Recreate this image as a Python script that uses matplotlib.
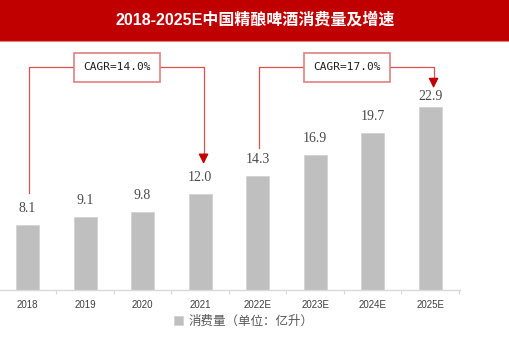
import matplotlib
matplotlib.use("Agg")
import matplotlib.pyplot as plt
from matplotlib.patches import Rectangle

years = ["2018", "2019", "2020", "2021", "2022E", "2023E", "2024E", "2025E"]
consumption = [8.1, 9.1, 9.8, 12.0, 14.3, 16.9, 19.7, 22.9]
title = "2018-2025E中国精酿啤酒消费量及增速"
legend_label = "消费量（单位：亿升）"
cagr_labels = ["CAGR=14.0%", "CAGR=17.0%"]
cagr_ranges = [(0, 3), (4, 7)]

W, H = 510, 340
fig = plt.figure(figsize=(W / 100, H / 100), dpi=100)
fig.patch.set_facecolor("white")

# title bar
fig.patches.append(Rectangle((0, (H - 41) / H), 1, 41 / H, transform=fig.transFigure,
                             facecolor="#C00000", edgecolor="none", zorder=0))
fig.add_artist(plt.Line2D([0, 1], [(H - 41) / H] * 2, transform=fig.transFigure,
                          color="#E88080", lw=0.8))
fig.text(0.5, (H - 20) / H, title, ha="center", va="center", color="white",
         fontsize=11.5, fontweight="bold", family=["Liberation Sans", "Noto Sans CJK SC"])

ax = fig.add_axes([0 / W, (H - 290) / H, 460 / W, 249 / H])
x = list(range(len(years)))
bars = ax.bar(x, consumption, width=0.4, color="#BFBFBF", edgecolor="#D0D0D0", lw=0.5,
              label=legend_label, zorder=2)
ax.set_xlim(-0.48, 7.52)
ax.set_ylim(0, 31.2)
for s in ["top", "right", "left"]:
    ax.spines[s].set_visible(False)
ax.spines["bottom"].set_color("#D9D9D9")
ax.spines["bottom"].set_linewidth(1)
ax.set_yticks([])
ax.set_xticks([i + 0.5 for i in x])
ax.set_xticklabels([])
ax.tick_params(axis="x", which="major", length=3, color="#D9D9D9", direction="out")
ax.set_xticks(x, minor=True)
ax.set_xticklabels(years, minor=True, fontsize=7, color="#404040", family="Liberation Sans")
ax.tick_params(axis="x", which="minor", length=0, pad=7)

offsets = [12, 12, 12, 12, 12, 12, 12, 7.5]
for xi, v, off in zip(x, consumption, offsets):
    ax.annotate(f"{v:.1f}", (xi, v), xytext=(0, off), textcoords="offset points",
                ha="center", va="center", fontsize=10, color="#4A4A4A",
                family="Liberation Serif")

line_c = "#D9534F"
top_y = 27.9
start_off = [4.0, 3.5]
tip_off = [3.8, 2.4]
for (a, b), lab, so, to in zip(cagr_ranges, cagr_labels, start_off, tip_off):
    ya = consumption[a] + so
    yb = consumption[b] + to
    ax.plot([a + 0.03, a + 0.03, b + 0.06, b + 0.06], [ya, top_y, top_y, yb + 1.0],
            color=line_c, lw=0.9, clip_on=False, zorder=3)
    ax.annotate("", xy=(b + 0.06, yb), xytext=(b + 0.06, yb + 1.2),
                arrowprops=dict(arrowstyle="-|>,head_length=0.6,head_width=0.3",
                                color="#C00000", lw=0.9, shrinkA=0, shrinkB=0))
    ax.text((a + b) / 2 + 0.05, top_y, lab, ha="center", va="center", fontsize=8,
            family="DejaVu Sans Mono", color="#202020", zorder=4,
            bbox=dict(boxstyle="square,pad=0.85", facecolor="white",
                      edgecolor="#E08080", lw=1.2))

fig.legend(handles=[bars], labels=[legend_label], loc="center",
           bbox_to_anchor=(244 / W, (H - 321) / H), frameon=False, fontsize=9,
           prop={"family": "Noto Sans CJK SC", "size": 9},
           handlelength=0.7, handleheight=0.7, handletextpad=0.5, labelcolor="#595959")

fig.savefig("out.png", dpi=100)
